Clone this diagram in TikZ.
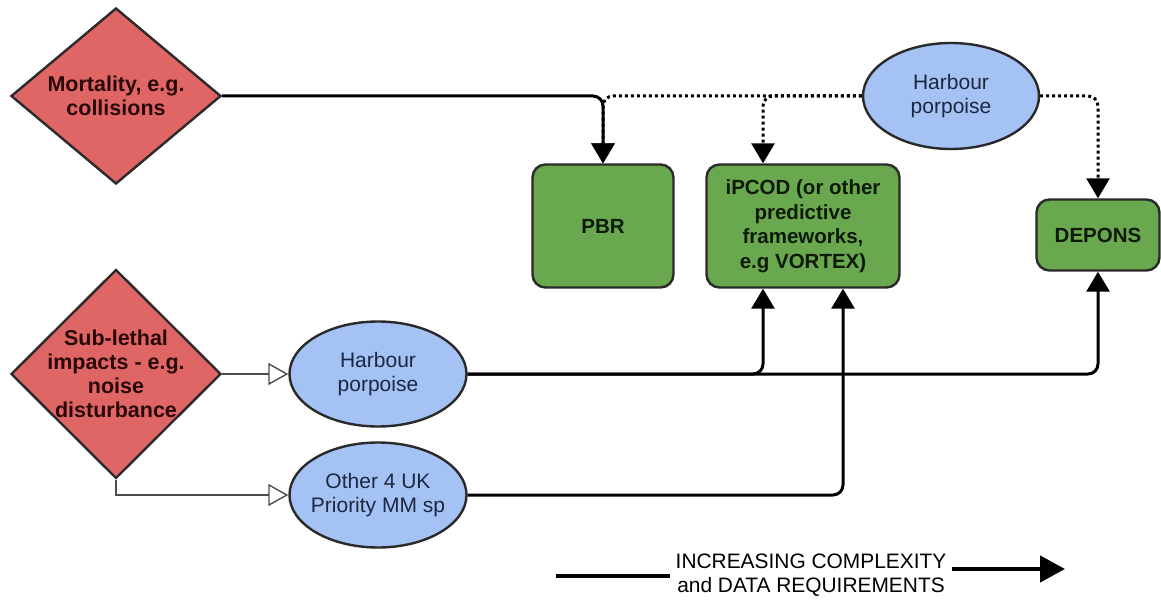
\documentclass[tikz,border=0pt]{standalone}
\usepackage{fontspec}
\setmainfont{Liberation Sans}
\usetikzlibrary{shapes.geometric,arrows.meta}

\definecolor{impactred}{HTML}{E06666}
\definecolor{modelgreen}{HTML}{6AA84F}
\definecolor{speciesblue}{HTML}{A4C2F4}
\definecolor{edgedark}{HTML}{2A2A2A}
\definecolor{bluetext}{HTML}{1C2740}
\definecolor{redtext}{HTML}{2A0808}
\definecolor{greentext}{HTML}{0E1A08}

\tikzset{
  impact/.style={diamond, draw=edgedark, line width=2.4pt, fill=impactred,
    inner sep=0pt, minimum width=210pt},
  impacttext/.style={align=center, text=redtext,
    font=\bfseries\fontsize{21.5}{24}\selectfont},
  model/.style={rectangle, rounded corners=13pt, draw=edgedark, line width=2.4pt,
    fill=modelgreen, inner sep=0pt, align=center, text=greentext,
    font=\bfseries\fontsize{20.5}{24.5}\selectfont},
  species/.style={ellipse, draw=edgedark, line width=2.4pt, fill=speciesblue,
    inner sep=-6pt, minimum width=177pt, minimum height=105pt, align=center,
    text=bluetext, font=\fontsize{21}{24}\selectfont},
  conn/.style={line width=3pt, draw=black, rounded corners=10pt,
    -{Triangle[length=20pt,width=23pt]}},
  dotconn/.style={conn, dash pattern=on 3pt off 3pt},
  thinconn/.style={line width=1.4pt, draw=black!70,
    -{Triangle[open,length=20pt,width=22pt,fill=white]}},
  trendline/.style={line width=4.5pt, draw=black},
  trendarrow/.style={trendline, -{Triangle[length=25pt,width=26pt]}},
  trendtext/.style={align=center, font=\fontsize{20.9}{23.5}\selectfont}
}

\begin{document}
\begin{tikzpicture}[x=1pt,y=-1pt]
\useasboundingbox[fill=white] (0,0) rectangle (1161,601);

% pressures
\node[impact, minimum height=176pt,
  label={[impacttext]center:Mortality, e.g.\\collisions}] (mort) at (116,96) {};
\node[impact, minimum height=209pt,
  label={[impacttext]center:Sub-lethal\\impacts - e.g.\\noise\\disturbance}] (sub) at (116,374) {};

% species
\node[species, minimum width=176pt, minimum height=106pt] (hpa) at (951,96) {Harbour\\porpoise};
\node[species] (hpb) at (378,374) {Harbour\\porpoise};
\node[species] (other) at (378,495) {Other 4 UK\\Priority MM sp};

% models
\node[model, minimum width=141pt, minimum height=123pt] (pbr) at (603,226) {PBR};
\node[model, minimum width=193pt, minimum height=123pt] (ipcod) at (803,226)
  {iPCOD (or other\\predictive\\frameworks,\\e.g VORTEX)};
\node[model, minimum width=123pt, minimum height=71pt] (depons) at (1098,235) {DEPONS};

% harbour porpoise (top) to models
\draw[dotconn] (hpa.west) -| (pbr.north);
\draw[dotconn] (hpa.west) -| ([xshift=-40pt]ipcod.north);
\draw[dotconn] (hpa.east) -| (depons.north);

% mortality to PBR
\draw[conn] (mort.east) -| (pbr.north);

% sub-lethal to species
\draw[thinconn] (sub.east) -- (sub.east -| hpb.west);
\draw[thinconn] (sub.south) |- (other.west);

% species to models
\draw[conn] (hpb.east) -| (depons.south);
\draw[conn] (hpb.east) -| ([xshift=-40pt]ipcod.south);
\draw[conn] (other.east) -| ([xshift=40pt]ipcod.south);

% trend arrow
\node[trendtext] (trend) at (811,575) {INCREASING COMPLEXITY\\and DATA REQUIREMENTS};
\coordinate (tls) at (556,576);
\coordinate (tle) at (670,576);
\coordinate (trs) at (952,569);
\coordinate (tre) at (1065,569);
\draw[trendline] (tls) -- (tle);
\draw[trendarrow] (trs) -- (tre);
\end{tikzpicture}
\end{document}
